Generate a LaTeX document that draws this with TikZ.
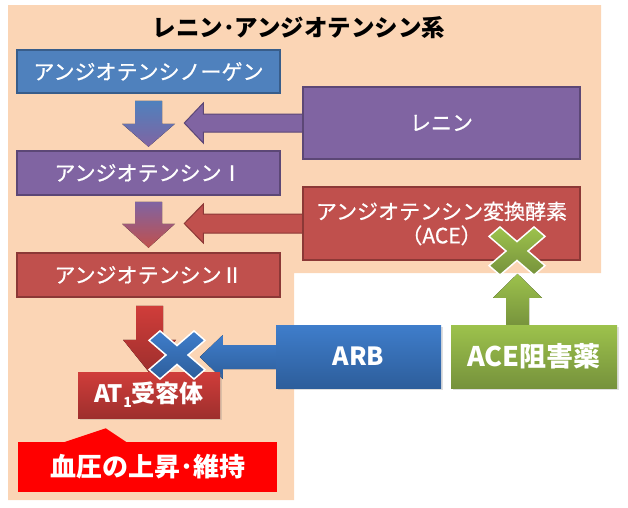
\documentclass[tikz,border=0pt]{standalone}
\usepackage{fontspec}
\setmainfont{Noto Sans CJK JP}
\newfontfamily\medfont[FakeBold=0.7]{Noto Sans CJK JP}
\usetikzlibrary{calc, backgrounds, shadows}

\definecolor{peach}{HTML}{FBD5B5}
\definecolor{ofblue}{HTML}{4F81BD}
\definecolor{ofblueline}{HTML}{385D8A}
\definecolor{ofpurple}{HTML}{8064A2}
\definecolor{ofpurpleline}{HTML}{5C4776}
\definecolor{ofred}{HTML}{C0504D}
\definecolor{ofredline}{HTML}{8C3836}
\definecolor{arbtop}{HTML}{3F7DCB}
\definecolor{arbbot}{HTML}{2D5E9B}
\definecolor{grtop}{HTML}{9DC24C}
\definecolor{grbot}{HTML}{76923C}
\definecolor{rdtop}{HTML}{D03D3A}
\definecolor{rdbot}{HTML}{9E2F2D}

% cross mark drawn round a centre point
\newcommand{\crossat}[2]{%
  \draw[#2, shift={#1}, yscale=0.86] (28,-17) -- (11,0) -- (28,17) -- (17,28) -- (0,11) -- (-17,28)
    -- (-28,17) -- (-11,0) -- (-28,-17) -- (-17,-28) -- (0,-11) -- (17,-28) -- cycle;}

\begin{document}
\begin{tikzpicture}[x=1pt, y=-1pt,
    box/.style={draw, line width=1.5pt, text=white, inner sep=0pt, align=center,
      font=\medfont\fontsize{21}{24}\selectfont},
    boldbox/.style={text=white, inner sep=0pt, align=center,
      drop shadow={opacity=0.25, shadow xshift=1.5pt, shadow yshift=-1.5pt}},
    crossmark/.style={draw=white, line width=1.5pt, line join=miter}]
		\useasboundingbox (0,0) rectangle (628,507);
		
		\node (title) at (299,28) {\bfseries\fontsize{23.5}{26}\selectfont レニン･アンジオテンシン系};
		
		\node[box, fill=ofblue, draw=ofblueline, minimum width=263, minimum height=43] (agen) at (148.5,71.5) {アンジオテンシノーゲン};
		\node[box, fill=ofpurple, draw=ofpurpleline, minimum width=277, minimum height=72] (renin) at (441.5,123) {レニン};
		\node[box, fill=ofpurple, draw=ofpurpleline, minimum width=263, minimum height=44] (ang1) at (148.5,173) {アンジオテンシンⅠ};
		\node[box, fill=ofred, draw=ofredline, minimum width=277, minimum height=73] (ace) at (441.5,223.5) {アンジオテンシン変換酵素\\（ACE）};
		\node[box, fill=ofred, draw=ofredline, minimum width=263, minimum height=44] (ang2) at (148.5,275) {アンジオテンシンⅡ};
		
		\node[boldbox, top color=rdtop, bottom color=rdbot, minimum width=142, minimum height=46] (at1) at (149,395)
			{\bfseries\fontsize{24}{26}\selectfont AT\raisebox{-5pt}{\fontsize{14}{14}\selectfont 1}受容体};
		\node[boldbox, top color=arbtop, bottom color=arbbot, minimum width=165, minimum height=63] (arb) at (358.5,356.5)
			{\bfseries\fontsize{25}{28}\selectfont ARB};
		\node[boldbox, top color=grtop, bottom color=grbot, minimum width=166, minimum height=63] (acei) at (534,356.5)
			{\bfseries\fontsize{27}{30}\selectfont ACE阻害薬};
		
		\node[fill=red, text=white, minimum width=259, minimum height=50] (bp) at (147.5,467)
			{\bfseries\fontsize{26}{28}\selectfont 血圧の上昇･維持};
		\fill[red] ($(bp.north west)+(46,0.5)$) -- ++(42,-14) -- ++(21,14) -- cycle;
		
		\begin{scope}[on background layer]
			\fill[peach] (8,5) -- (601,5) -- (601,273) -- (294,273) -- (294,500) -- (8,500) -- cycle;
			% flow arrows
			\fill[top color=ofblue, bottom color=ofpurple] ($(agen.south)+(-13.5,7)$) -- ++(27,0) -- ++(0,23) -- ++(13,0)
				-- ++(-26.5,23) -- ++(-26.5,-23) -- ++(13,0) -- cycle;
			\fill[top color=ofpurple, bottom color=ofred] ($(ang1.south)+(-13.5,6)$) -- ++(27,0) -- ++(0,22) -- ++(13,0)
				-- ++(-26.5,24) -- ++(-26.5,-24) -- ++(13,0) -- cycle;
			\fill[top color=rdtop, bottom color=rdbot] ($(ang2.south)+(-12.5,8)$) -- ++(27,0) -- ++(0,34) -- ++(13,0)
				-- ++(-26.5,33) -- ++(-26.5,-33) -- ++(13,0) -- cycle;
			% enzyme arrows
			\draw[fill=ofpurple, draw=ofpurpleline, line width=1pt] ($(renin.west)+(1,-9)$) -- ++(-100,0) -- ++(0,-11)
				-- ++(-19,20) -- ++(19,20) -- ++(0,-11) -- ++(100,0);
			\draw[fill=ofred, draw=ofredline, line width=1pt] ($(ace.west)+(1,-9.5)$) -- ++(-100,0) -- ++(0,-10)
				-- ++(-19,19.5) -- ++(19,19.5) -- ++(0,-10) -- ++(100,0);
			% drug arrows
			\fill[top color=arbtop, bottom color=arbbot] ($(arb.west)+(2,-11.5)$) -- ++(-55,0) -- ++(0,-10)
				-- ++(-23,22) -- ++(23,22) -- ++(0,-10) -- ++(55,0) -- cycle;
			\fill[top color=grtop, bottom color=grbot] ($(acei.north)+(-28,2)$) -- ++(0,-29) -- ++(-13,0)
				-- ++(24.5,-24) -- ++(24.5,24) -- ++(-13,0) -- ++(0,29) -- cycle;
		\end{scope}
		
		\crossat{(177,355)}{crossmark, top color=arbtop, bottom color=arbbot}
		\crossat{(517,251)}{crossmark, top color=grtop, bottom color=grbot}
	\end{tikzpicture}
\end{document}
